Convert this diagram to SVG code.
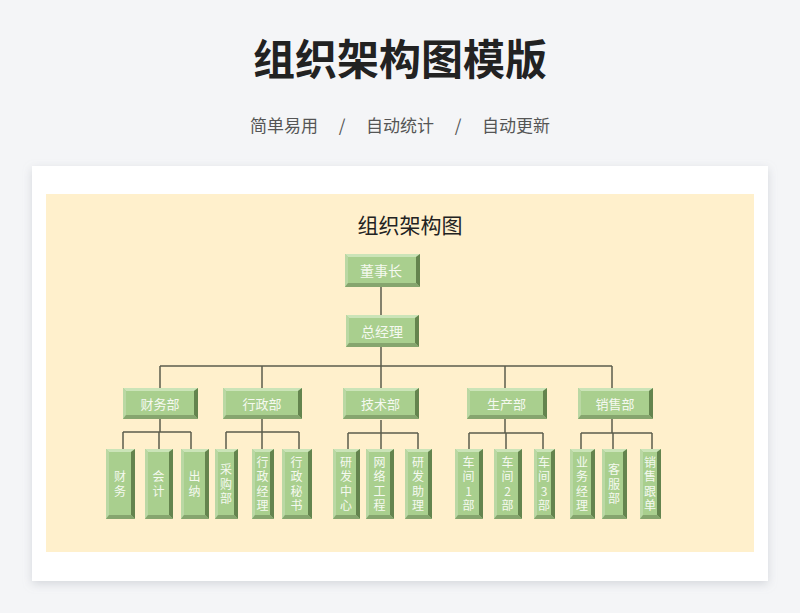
<svg xmlns="http://www.w3.org/2000/svg" width="800" height="613" viewBox="0 0 800 613">
<defs>
<filter id="sh" x="-10%" y="-10%" width="120%" height="125%">
<feDropShadow dx="0" dy="3" stdDeviation="5" flood-color="#9aa0aa" flood-opacity="0.35"/>
</filter>
<style>
.f{fill:#a9cf8e}.t{fill:#cbe4b8}.l{fill:#bad8a4}.r{fill:#64844e}.b{fill:#86a56e}
.tt{font-family:"Noto Sans CJK SC","Noto Sans",sans-serif;font-size:13px;fill:#f5f9f0;text-anchor:middle}
.big{font-size:14px}
.ct{font-family:"Noto Sans CJK SC","Noto Sans",sans-serif;font-size:12px;fill:#f5f9f0;text-anchor:middle}
.cn{fill:none;stroke:#5c5c4c;stroke-width:1.5}
</style>
</defs>
<rect width="800" height="613" fill="#f4f5f7"/>
<text x="400" y="75" font-family="'Noto Sans CJK SC',sans-serif" font-weight="700" font-size="42" fill="#222" text-anchor="middle">组织架构图模版</text>
<g font-family="'Noto Sans CJK SC',sans-serif" font-size="17" fill="#555" text-anchor="middle">
<text x="284" y="131.5">简单易用</text>
<text x="342" y="131.5">/</text>
<text x="400" y="131.5">自动统计</text>
<text x="458" y="131.5">/</text>
<text x="516" y="131.5">自动更新</text>
</g>
<rect x="32" y="166" width="736" height="415" fill="#fff" filter="url(#sh)"/>
<rect x="46" y="194" width="708" height="358" fill="#fff0cc"/>
<text x="410" y="233" font-family="'Noto Sans CJK SC',sans-serif" font-size="21" fill="#222" text-anchor="middle">组织架构图</text>

<g id="connectors" class="cn">
<path d="M381 287V315M381 347V366M160 366H612M160 366V388M262 366V388M381 366V388M505 366V388M612 366V388"/>
<path d="M160 419V432M123 432H191M123 432V449M159 432V449M191 432V449"/>
<path d="M262 419V432M226 432H299M226 432V449M262 432V449M299 432V449"/>
<path d="M381 420V433M348 433H418M348 433V449M381 433V449M418 433V449"/>
<path d="M505 419V433M469 433H543M469 433V449M506 433V449M543 433V449"/>
<path d="M612 419V433M581 433H652M581 433V449M613 433V449M652 433V449"/>
</g>

<g id="n-dongshizhang" transform="translate(345,254)"><rect class="f" width="75" height="33"/><path class="t" d="M0 0H75l-4 3H3z"/><path class="l" d="M0 0l3 3V29L0 33z"/><path class="r" d="M75 0V33l-4-4V3z"/><path class="b" d="M0 33H75l-4-4H3z"/><text class="tt big" x="36" y="22">董事长</text></g>
<g id="n-zongjingli" transform="translate(346,315)"><rect class="f" width="73" height="32"/><path class="t" d="M0 0H73l-4 3H3z"/><path class="l" d="M0 0l3 3V28L0 32z"/><path class="r" d="M73 0V32l-4-4V3z"/><path class="b" d="M0 32H73l-4-4H3z"/><text class="tt big" x="36" y="21.5">总经理</text></g>

<g id="n-caiwubu" transform="translate(123,388)"><rect class="f" width="75" height="31"/><path class="t" d="M0 0H75l-4 3H3z"/><path class="l" d="M0 0l3 3V27L0 31z"/><path class="r" d="M75 0V31l-4-4V3z"/><path class="b" d="M0 31H75l-4-4H3z"/><text class="tt" x="37" y="20.5">财务部</text></g>
<g id="n-xingzhengbu" transform="translate(223,388)"><rect class="f" width="79" height="31"/><path class="t" d="M0 0H79l-4 3H3z"/><path class="l" d="M0 0l3 3V27L0 31z"/><path class="r" d="M79 0V31l-4-4V3z"/><path class="b" d="M0 31H79l-4-4H3z"/><text class="tt" x="39" y="20.5">行政部</text></g>
<g id="n-jishubu" transform="translate(343,388)"><rect class="f" width="76" height="31"/><path class="t" d="M0 0H76l-4 3H3z"/><path class="l" d="M0 0l3 3V27L0 31z"/><path class="r" d="M76 0V31l-4-4V3z"/><path class="b" d="M0 31H76l-4-4H3z"/><text class="tt" x="37.5" y="20.5">技术部</text></g>
<g id="n-shengchanbu" transform="translate(467,388)"><rect class="f" width="80" height="31"/><path class="t" d="M0 0H80l-4 3H3z"/><path class="l" d="M0 0l3 3V27L0 31z"/><path class="r" d="M80 0V31l-4-4V3z"/><path class="b" d="M0 31H80l-4-4H3z"/><text class="tt" x="39.5" y="20.5">生产部</text></g>
<g id="n-xiaoshoubu" transform="translate(578,388)"><rect class="f" width="75" height="31"/><path class="t" d="M0 0H75l-4 3H3z"/><path class="l" d="M0 0l3 3V27L0 31z"/><path class="r" d="M75 0V31l-4-4V3z"/><path class="b" d="M0 31H75l-4-4H3z"/><text class="tt" x="37" y="20.5">销售部</text></g>

<g id="c-caiwu" transform="translate(106,449)"><rect class="f" width="29" height="70"/><path class="t" d="M0 0H29l-4 3H3z"/><path class="l" d="M0 0l3 3V66L0 70z"/><path class="r" d="M29 0V70l-4-4V3z"/><path class="b" d="M0 70H29l-4-4H3z"/><text class="ct" y="32.4"><tspan x="14">财</tspan><tspan x="14" dy="14.5">务</tspan></text></g>
<g id="c-kuaiji" transform="translate(145,449)"><rect class="f" width="28" height="70"/><path class="t" d="M0 0H28l-4 3H3z"/><path class="l" d="M0 0l3 3V66L0 70z"/><path class="r" d="M28 0V70l-4-4V3z"/><path class="b" d="M0 70H28l-4-4H3z"/><text class="ct" y="32.4"><tspan x="13.5">会</tspan><tspan x="13.5" dy="14.5">计</tspan></text></g>
<g id="c-chuna" transform="translate(181,449)"><rect class="f" width="28" height="70"/><path class="t" d="M0 0H28l-4 3H3z"/><path class="l" d="M0 0l3 3V66L0 70z"/><path class="r" d="M28 0V70l-4-4V3z"/><path class="b" d="M0 70H28l-4-4H3z"/><text class="ct" y="32.4"><tspan x="13.5">出</tspan><tspan x="13.5" dy="14.5">纳</tspan></text></g>
<g id="c-caigoubu" transform="translate(215,449)"><rect class="f" width="23" height="70"/><path class="t" d="M0 0H23l-4 3H3z"/><path class="l" d="M0 0l3 3V66L0 70z"/><path class="r" d="M23 0V70l-4-4V3z"/><path class="b" d="M0 70H23l-4-4H3z"/><text class="ct" y="25.1"><tspan x="11">采</tspan><tspan x="11" dy="14.5">购</tspan><tspan x="11" dy="14.5">部</tspan></text></g>
<g id="c-xingzhengjingli" transform="translate(252,449)"><rect class="f" width="22" height="70"/><path class="t" d="M0 0H22l-4 3H3z"/><path class="l" d="M0 0l3 3V66L0 70z"/><path class="r" d="M22 0V70l-4-4V3z"/><path class="b" d="M0 70H22l-4-4H3z"/><text class="ct" y="17.9"><tspan x="10.5">行</tspan><tspan x="10.5" dy="14.5">政</tspan><tspan x="10.5" dy="14.5">经</tspan><tspan x="10.5" dy="14.5">理</tspan></text></g>
<g id="c-xingzhengmishu" transform="translate(282,449)"><rect class="f" width="30" height="70"/><path class="t" d="M0 0H30l-4 3H3z"/><path class="l" d="M0 0l3 3V66L0 70z"/><path class="r" d="M30 0V70l-4-4V3z"/><path class="b" d="M0 70H30l-4-4H3z"/><text class="ct" y="17.9"><tspan x="14.5">行</tspan><tspan x="14.5" dy="14.5">政</tspan><tspan x="14.5" dy="14.5">秘</tspan><tspan x="14.5" dy="14.5">书</tspan></text></g>
<g id="c-yanfazhongxin" transform="translate(333,449)"><rect class="f" width="27" height="70"/><path class="t" d="M0 0H27l-4 3H3z"/><path class="l" d="M0 0l3 3V66L0 70z"/><path class="r" d="M27 0V70l-4-4V3z"/><path class="b" d="M0 70H27l-4-4H3z"/><text class="ct" y="17.9"><tspan x="13">研</tspan><tspan x="13" dy="14.5">发</tspan><tspan x="13" dy="14.5">中</tspan><tspan x="13" dy="14.5">心</tspan></text></g>
<g id="c-wangluogongcheng" transform="translate(366,449)"><rect class="f" width="28" height="70"/><path class="t" d="M0 0H28l-4 3H3z"/><path class="l" d="M0 0l3 3V66L0 70z"/><path class="r" d="M28 0V70l-4-4V3z"/><path class="b" d="M0 70H28l-4-4H3z"/><text class="ct" y="17.9"><tspan x="13.5">网</tspan><tspan x="13.5" dy="14.5">络</tspan><tspan x="13.5" dy="14.5">工</tspan><tspan x="13.5" dy="14.5">程</tspan></text></g>
<g id="c-yanfazhuli" transform="translate(405,449)"><rect class="f" width="27" height="70"/><path class="t" d="M0 0H27l-4 3H3z"/><path class="l" d="M0 0l3 3V66L0 70z"/><path class="r" d="M27 0V70l-4-4V3z"/><path class="b" d="M0 70H27l-4-4H3z"/><text class="ct" y="17.9"><tspan x="13">研</tspan><tspan x="13" dy="14.5">发</tspan><tspan x="13" dy="14.5">助</tspan><tspan x="13" dy="14.5">理</tspan></text></g>
<g id="c-chejian1" transform="translate(455,449)"><rect class="f" width="28" height="70"/><path class="t" d="M0 0H28l-4 3H3z"/><path class="l" d="M0 0l3 3V66L0 70z"/><path class="r" d="M28 0V70l-4-4V3z"/><path class="b" d="M0 70H28l-4-4H3z"/><text class="ct" y="17.9"><tspan x="13.5">车</tspan><tspan x="13.5" dy="14.5">间</tspan><tspan x="13.5" dy="14.5">1</tspan><tspan x="13.5" dy="14.5">部</tspan></text></g>
<g id="c-chejian2" transform="translate(494,449)"><rect class="f" width="28" height="70"/><path class="t" d="M0 0H28l-4 3H3z"/><path class="l" d="M0 0l3 3V66L0 70z"/><path class="r" d="M28 0V70l-4-4V3z"/><path class="b" d="M0 70H28l-4-4H3z"/><text class="ct" y="17.9"><tspan x="13.5">车</tspan><tspan x="13.5" dy="14.5">间</tspan><tspan x="13.5" dy="14.5">2</tspan><tspan x="13.5" dy="14.5">部</tspan></text></g>
<g id="c-chejian3" transform="translate(534,449)"><rect class="f" width="21" height="70"/><path class="t" d="M0 0H21l-4 3H3z"/><path class="l" d="M0 0l3 3V66L0 70z"/><path class="r" d="M21 0V70l-4-4V3z"/><path class="b" d="M0 70H21l-4-4H3z"/><text class="ct" y="17.9"><tspan x="10">车</tspan><tspan x="10" dy="14.5">间</tspan><tspan x="10" dy="14.5">3</tspan><tspan x="10" dy="14.5">部</tspan></text></g>
<g id="c-yewujingli" transform="translate(570,449)"><rect class="f" width="25" height="70"/><path class="t" d="M0 0H25l-4 3H3z"/><path class="l" d="M0 0l3 3V66L0 70z"/><path class="r" d="M25 0V70l-4-4V3z"/><path class="b" d="M0 70H25l-4-4H3z"/><text class="ct" y="17.9"><tspan x="12">业</tspan><tspan x="12" dy="14.5">务</tspan><tspan x="12" dy="14.5">经</tspan><tspan x="12" dy="14.5">理</tspan></text></g>
<g id="c-kefubu" transform="translate(602,449)"><rect class="f" width="25" height="70"/><path class="t" d="M0 0H25l-4 3H3z"/><path class="l" d="M0 0l3 3V66L0 70z"/><path class="r" d="M25 0V70l-4-4V3z"/><path class="b" d="M0 70H25l-4-4H3z"/><text class="ct" y="25.1"><tspan x="12">客</tspan><tspan x="12" dy="14.5">服</tspan><tspan x="12" dy="14.5">部</tspan></text></g>
<g id="c-xiaoshougendan" transform="translate(640,449)"><rect class="f" width="21" height="70"/><path class="t" d="M0 0H21l-4 3H3z"/><path class="l" d="M0 0l3 3V66L0 70z"/><path class="r" d="M21 0V70l-4-4V3z"/><path class="b" d="M0 70H21l-4-4H3z"/><text class="ct" y="17.9"><tspan x="10">销</tspan><tspan x="10" dy="14.5">售</tspan><tspan x="10" dy="14.5">跟</tspan><tspan x="10" dy="14.5">单</tspan></text></g>
</svg>
